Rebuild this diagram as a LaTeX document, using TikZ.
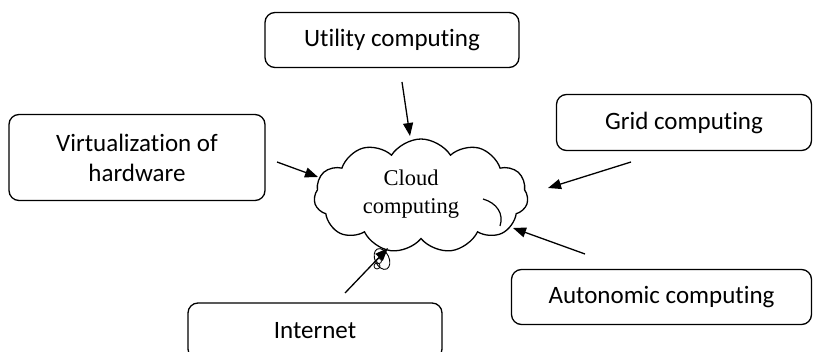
\documentclass[tikz,border=0pt]{standalone}
\usepackage{fontspec}
\newfontfamily\calib[Ligatures=NoCommon]{Carlito}
\newfontfamily\tnr{Liberation Serif}
\usetikzlibrary{shapes.symbols,arrows.meta}
\begin{document}
\begin{tikzpicture}[x=1pt,y=-1pt,
  box/.style={draw, line width=1.3pt, rounded corners=10pt, font=\calib\fontsize{25}{30}\selectfont, align=center, inner sep=0pt},
  arr/.style={line width=1.3pt, -{Triangle[length=13pt,width=10pt]}},
  cloudshape/.style={draw, cloud, cloud puffs=11, cloud puff arc=115, aspect=1.85, line width=1.3pt, minimum width=214pt, minimum height=114pt, inner sep=0pt}
]
\useasboundingbox (0,0) rectangle (813,352);
\clip (0,0) rectangle (813,352);
\fill[white] (0,0) rectangle (813,352);

\node[box, minimum width=254pt, minimum height=55pt] (util) at (392,40) {Utility computing};
\node[box, minimum width=256pt, minimum height=86pt] (virt) at (137,157.5) {Virtualization of\\hardware};
\node[box, minimum width=255pt, minimum height=56pt] (grid) at (684,122.5) {Grid computing};
\node[box, minimum width=300pt, minimum height=55pt] (auto) at (661.5,297) {Autonomic computing};
\node[box, minimum width=254pt, minimum height=56pt] (inet) at (315,331) {Internet};

\node[cloudshape] (cloud) at (421,196) {};
\node[font=\tnr\fontsize{22.5}{28}\selectfont, align=center, inner sep=0pt] (ctext) at (411,194) {Cloud\\computing};

% inner arc of the cloud
\draw[line width=1.2pt] (483,199) .. controls (497,203) and (504,214) .. (500,226);

\coordinate (uS) at (402,82);  \coordinate (uT) at (410,136);
\coordinate (vS) at (277,162); \coordinate (vT) at (318,177);
\coordinate (gS) at (631,162); \coordinate (gT) at (548,188);
\coordinate (aS) at (585,254); \coordinate (aT) at (513,228);
\coordinate (iS) at (345,293); \coordinate (iT) at (388,248);

\draw[arr] (uS) -- (uT);
\draw[arr] (vS) -- (vT);
\draw[arr] (gS) -- (gT);
\draw[arr] (aS) -- (aT);
\draw[arr] (iS) -- (iT);

% scribble at the internet arrow head
\draw[line width=0.9pt, rotate around={25:(382,259)}] (382,259) ellipse (7pt and 11pt);
\draw[line width=0.8pt] (377,266) circle (3pt);
\draw[line width=0.8pt] (379,261) circle (2.5pt);
\end{tikzpicture}
\end{document}
